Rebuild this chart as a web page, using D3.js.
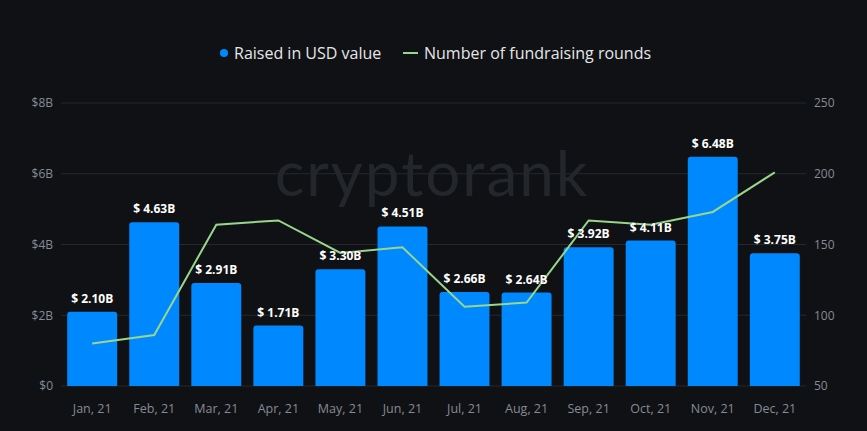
<!DOCTYPE html>
<html lang="en">
<head>
<meta charset="UTF-8" />
<title>Fundraising 2021</title>
<script src="https://cdnjs.cloudflare.com/ajax/libs/d3/7.8.2/d3.min.js"></script>
<style>
  body { margin: 0; background: #0f1114; font-family: "Open Sans", "Noto Sans", sans-serif; }
  svg { display: block; }
</style>
</head>
<body>
<svg id="chart"></svg>
<script>
// data
const months = ["Jan, 21", "Feb, 21", "Mar, 21", "Apr, 21", "May, 21", "Jun, 21",
                "Jul, 21", "Aug, 21", "Sep, 21", "Oct, 21", "Nov, 21", "Dec, 21"];
const raised = [2.10, 4.63, 2.91, 1.71, 3.30, 4.51, 2.66, 2.64, 3.92, 4.11, 6.48, 3.75]; // $B
const rounds = [80, 86, 164, 167, 144, 148, 106, 109, 167, 164, 173, 201];
const leftTicks = [0, 2, 4, 6, 8];
const rightTicks = [50, 100, 150, 200, 250];

const width = 867, height = 431;
const margin = { top: 103, right: 61, bottom: 45, left: 61 };

const svg = d3.select("#chart").attr("width", width).attr("height", height);
svg.append("rect").attr("width", width).attr("height", height).attr("fill", "#0f1114");

const x = d3.scaleBand().domain(months)
  .range([margin.left, width - margin.right]).paddingInner(0.195).paddingOuter(0.1);
const yL = d3.scaleLinear().domain([0, 8]).range([height - margin.bottom, margin.top]);
const yR = d3.scaleLinear().domain([50, 250]).range([height - margin.bottom, margin.top]);

// gridlines
svg.append("g").selectAll("line").data(leftTicks).join("line")
  .attr("x1", margin.left).attr("x2", width - margin.right)
  .attr("y1", d => yL(d)).attr("y2", d => yL(d))
  .attr("stroke", "#26282d").attr("stroke-width", 1);

// watermark
svg.append("text")
  .attr("x", 432).attr("y", 196)
  .attr("text-anchor", "middle")
  .attr("fill", "#23262b")
  .attr("font-family", "Lato, 'Open Sans', sans-serif")
  .attr("font-size", 62)
  .attr("letter-spacing", 2)
  .text("cryptorank");

// left axis
const axisL = svg.append("g").attr("transform", `translate(${margin.left},0)`)
  .call(d3.axisLeft(yL).tickValues(leftTicks).tickSize(0).tickPadding(8)
    .tickFormat(d => d === 0 ? "$0" : `$${d}B`));
axisL.select(".domain").remove();
axisL.selectAll("text").attr("fill", "#868b94").attr("font-size", 12)
  .attr("font-family", "'Open Sans', sans-serif");

// right axis
const axisR = svg.append("g").attr("transform", `translate(${width - margin.right},0)`)
  .call(d3.axisRight(yR).tickValues(rightTicks).tickSize(0).tickPadding(8));
axisR.select(".domain").remove();
axisR.selectAll("text").attr("fill", "#868b94").attr("font-size", 12)
  .attr("font-family", "'Open Sans', sans-serif");

// bottom axis
const axisB = svg.append("g").attr("transform", `translate(0,${height - margin.bottom})`)
  .call(d3.axisBottom(x).tickSize(0).tickPadding(18));
axisB.select(".domain").remove();
axisB.selectAll("text").attr("fill", "#868b94").attr("font-size", 12.5)
  .attr("font-family", "'Open Sans', sans-serif");

// bars (rounded top corners)
const r = 3;
svg.append("g").selectAll("path").data(raised).join("path")
  .attr("fill", "#0088fe")
  .attr("d", (d, i) => {
    const x0 = x(months[i]), w = x.bandwidth();
    const y0 = yL(d), y1 = yL(0);
    return `M${x0},${y1}V${y0 + r}Q${x0},${y0} ${x0 + r},${y0}H${x0 + w - r}Q${x0 + w},${y0} ${x0 + w},${y0 + r}V${y1}Z`;
  });

// line
const line = d3.line()
  .x((d, i) => x(months[i]) + x.bandwidth() / 2)
  .y(d => yR(d));
svg.append("path").datum(rounds)
  .attr("fill", "none").attr("stroke", "#98d68b").attr("stroke-width", 2)
  .attr("d", line);

// value labels
svg.append("g").selectAll("text").data(raised).join("text")
  .attr("x", (d, i) => x(months[i]) + x.bandwidth() / 2)
  .attr("y", d => yL(d) - 9)
  .attr("text-anchor", "middle")
  .attr("fill", "#ffffff")
  .attr("font-size", 12).attr("font-weight", "bold")
  .attr("font-family", "'Open Sans', sans-serif")
  .style("paint-order", "stroke").attr("stroke", "#0f1114").attr("stroke-width", 0.5)
  .text(d => `$ ${d.toFixed(2)}B`);

// legend
const legend = svg.append("g").attr("font-family", "'Open Sans', sans-serif").attr("font-size", 16);
legend.append("circle").attr("cx", 224).attr("cy", 53).attr("r", 4).attr("fill", "#0088fe");
legend.append("text").attr("x", 234).attr("y", 59).attr("fill", "#e6e6e6").text("Raised in USD value");
legend.append("line").attr("x1", 403).attr("x2", 418).attr("y1", 53).attr("y2", 53)
  .attr("stroke", "#98d68b").attr("stroke-width", 2);
legend.append("text").attr("x", 424).attr("y", 59).attr("fill", "#e6e6e6").text("Number of fundraising rounds");
</script>
</body>
</html>
